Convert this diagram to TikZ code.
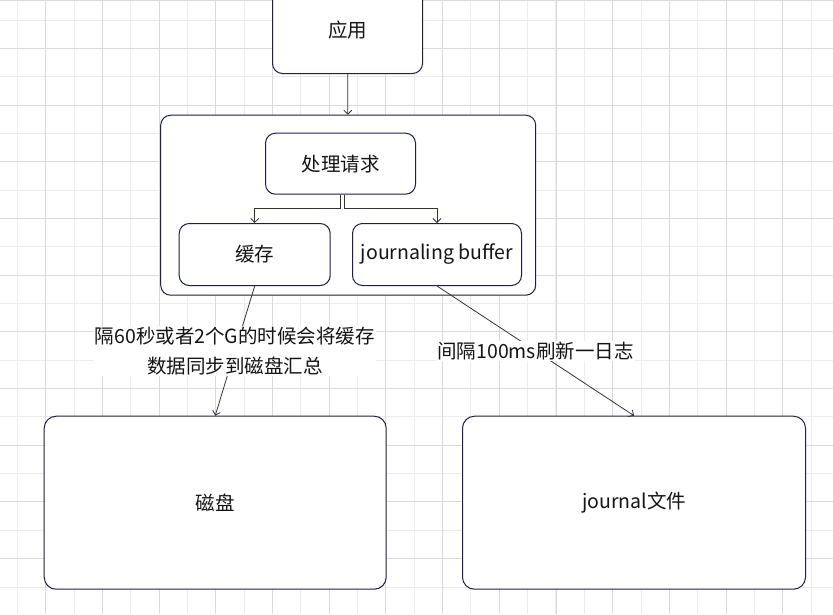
\documentclass[tikz,border=0pt]{standalone}
\usepackage{fontspec}
\setmainfont{Noto Sans CJK SC}
\usepackage{tikz}
\usetikzlibrary{arrows.meta}
\definecolor{boxline}{RGB}{27,31,75}
\definecolor{txt}{RGB}{20,20,20}
\definecolor{gridmin}{RGB}{236,236,236}
\definecolor{gridmaj}{RGB}{218,218,218}

\begin{document}
\begin{tikzpicture}[x=1pt,y=-1pt,
	box/.style={draw=boxline,line width=1pt,rounded corners=10pt,fill=white,text=txt,inner sep=0pt,font=\fontsize{19.5}{24}\selectfont},
	arr/.style={draw=black!80,line width=0.8pt,-{Straight Barb[length=4pt,width=8pt]}},
	lbl/.style={fill=white,text=txt,align=center,inner sep=1pt,font=\fontsize{19.5}{30}\selectfont}]
\useasboundingbox (0,0) rectangle (833,614);
\fill[white] (0,0) rectangle (833,614);
\foreach \i in {0,...,29} {
	\draw[gridmin,line width=1pt] (17.3+28.35*\i,0) -- (17.3+28.35*\i,614);
	\draw[gridmin,line width=1pt] (0,20+28.35*\i) -- (833,20+28.35*\i);
}
\foreach \i in {0,...,14} {
	\draw[gridmaj,line width=1pt] (45.7+56.7*\i,0) -- (45.7+56.7*\i,614);
	\draw[gridmaj,line width=1pt] (0,48.3+56.7*\i) -- (833,48.3+56.7*\i);
}
\draw[gridmaj,line width=1pt] (0,0.5) -- (833,0.5);

\node[box,minimum width=150pt,minimum height=87pt] (app) at (347.5,30) {应用};
\node[box,minimum width=375pt,minimum height=180pt] (outer) at (348.2,205.2) {};
\node[box,minimum width=150pt,minimum height=61pt] (req) at (340.5,163.7) {处理请求};
\node[box,minimum width=151pt,minimum height=62pt] (cache) at (254.7,254.5) {缓存};
\node[box,minimum width=169pt,minimum height=62pt] (jbuf) at (437,254.5) {journaling buffer};
\node[box,rounded corners=12pt,minimum width=342pt,minimum height=173pt] (disk) at (215.2,502.7) {磁盘};
\node[box,rounded corners=12pt,minimum width=343pt,minimum height=173pt] (jfile) at (634,502.7) {journal文件};

\draw[arr] (app) -- (outer);
\draw[arr] (req.south) -- ++(0,14) -| (cache.north);
\draw[arr] ([xshift=4pt]req.south) -- ++(0,14) -| (jbuf.north);
\draw[arr] (cache.south) -- node[lbl] {隔60秒或者2个G的时候会将缓存\\数据同步到磁盘汇总} (disk.north);
\draw[arr] (jbuf.south) -- node[lbl] {间隔100ms刷新一日志} (jfile.north);
\end{tikzpicture}
\end{document}
